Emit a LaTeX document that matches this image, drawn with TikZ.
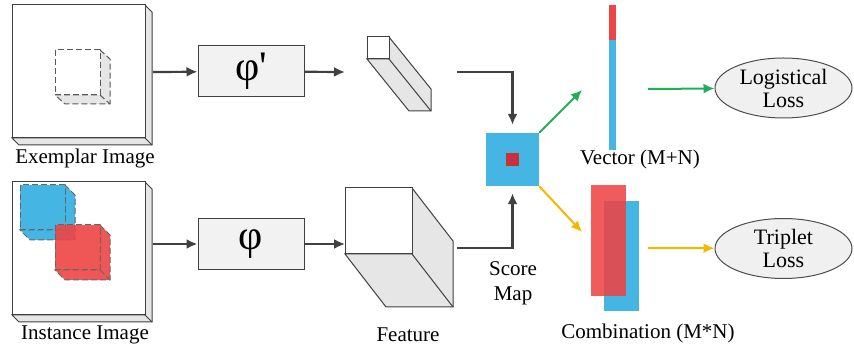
\documentclass[tikz,border=0pt]{standalone}
\usepackage{fontspec}
\setmainfont{Liberation Serif}
\newfontfamily\figfont{Liberation Serif}
\usetikzlibrary{arrows.meta,shapes.geometric}
\definecolor{skyblue}{HTML}{45B5E3}
\definecolor{boxred}{HTML}{EE4444}
\definecolor{darkred}{HTML}{C8303C}
\definecolor{arrgreen}{HTML}{1FAF5A}
\definecolor{arryellow}{HTML}{F5B800}
\definecolor{arrgray}{HTML}{404040}
\definecolor{sidegray}{HTML}{E6E6E6}
% cuboid: front style, side style, x, y, width, height, dx, dy
\newcommand{\cuboid}[8]{%
  \filldraw[#2] (#3+#5,#4) -- ++(#7,#8) -- ++(0,#6) -- ++(-#5,0) -- ++(-#7,-#8) -- ++(#5,0) -- cycle;
  \draw[#2, fill=none] (#3+#5,#4+#6) -- ++(#7,#8);
  \filldraw[#1] (#3,#4) rectangle ++(#5,#6);
}

\begin{document}
\begin{tikzpicture}[x=1pt, y=-1pt,
    every node/.style={font=\figfont\fontsize{21}{25}\selectfont},
    lbl/.style={inner sep=0pt},
    front/.style={draw=black!75, fill=white, line width=1pt},
    side/.style={draw=black!75, fill=sidegray, line width=1pt},
    hidden/.style={dash pattern=on 6pt off 3pt},
    phibox/.style={draw=black!75, fill=black!5, line width=1pt, minimum width=106pt, minimum height=51pt, inner sep=0pt, font=\figfont\fontsize{42}{42}\selectfont},
    loss/.style={ellipse, draw=black!70, fill=black!6, line width=1pt, minimum width=137pt, minimum height=60pt, inner sep=0pt, align=center, font=\figfont\fontsize{22}{23}\selectfont},
    arr/.style={draw=arrgray, line width=2.2pt, -{Latex[length=11pt,width=10pt]}},
    garr/.style={arr, draw=arrgreen, line width=2pt},
    yarr/.style={arr, draw=arryellow, line width=2pt}]
    \useasboundingbox (0,0) rectangle (854,352);

    % First row
    \cuboid{front}{side}{12}{5}{133}{133}{7}{7}
    \cuboid{front, hidden, draw=black!65}{side, hidden, draw=black!65}{55}{50}{45}{45}{10}{9}
    \node[lbl] (exemplar-lbl) at (85,158) {Exemplar Image};
    \coordinate (exemplar) at (153,72);
    \node[phibox] (phi-1) at (251,71.5) {φ\textquotesingle};
    \cuboid{front}{side}{367}{37}{22}{22}{42}{52}
    \coordinate (bar-in) at (345,72);
    \coordinate (bar-out) at (457,72);

    % Second row
    \cuboid{front}{side}{12}{182}{133}{133}{7}{7}
    \cuboid{draw=black!60, hidden, fill=skyblue, line width=1pt}{draw=black!60, hidden, fill=skyblue, line width=1pt}{20}{185}{45}{45}{10}{10}
    \cuboid{draw=black!60, hidden, fill=boxred, fill opacity=0.9, line width=1pt}{draw=black!60, hidden, fill=boxred, fill opacity=0.9, line width=1pt}{55}{225}{45}{45}{10}{10}
    \node[lbl] (instance-lbl) at (85,335) {Instance Image};
    \coordinate (instance) at (153,244);
    \node[phibox] (phi-2) at (251,244) {φ};
    \cuboid{front}{side}{345}{188}{67}{66}{41}{53}
    \coordinate (feature-in) at (345,244);
    \coordinate (feature-out) at (457,248);
    \node[lbl] (feature-lbl) at (408,335) {Feature};

    % Score map
    \node[fill=skyblue, minimum width=53pt, minimum height=53pt, inner sep=0pt] (score) at (512.5,159.5) {};
    \fill[darkred] (506,153) rectangle (519,166);
    \node[lbl, align=center] (score-lbl) at (513,283) {Score\\Map};

    % Vector and combination
    \fill[boxred] (609,5) rectangle (616,40);
    \fill[skyblue] (609,40) rectangle (616,150);
    \node[lbl] (vector-lbl) at (640,159) {Vector (M+N)};
    \fill[skyblue] (604,201) rectangle (639,311);
    \fill[boxred, fill opacity=0.88] (591,185) rectangle (626,296);
    \node[lbl] (comb-lbl) at (648,333) {Combination (M*N)};
    \coordinate (vec-in) at (582,90);
    \coordinate (vec-out) at (648,89);
    \coordinate (comb-in) at (582,232);
    \coordinate (comb-out) at (648,248);

    % Losses
    \node[loss] (logloss) at (783.5,88) {Logistical\\Loss};
    \node[loss] (triloss) at (783.5,248.5) {Triplet\\Loss};

    % Connectors
    \draw[arr] (exemplar) -- (phi-1);
    \draw[arr] (phi-1) -- (bar-in);
    \draw[arr] (instance) -- (phi-2);
    \draw[arr] (phi-2) -- (feature-in);
    \draw[arr, shorten >=8pt] (bar-out) -| (score.north);
    \draw[arr, shorten >=7pt] (feature-out) -| (score.south);
    \draw[garr] (score.north east) -- (vec-in);
    \draw[yarr] (score.south east) -- (comb-in);
    \draw[garr] (vec-out) -- (logloss);
    \draw[yarr] (comb-out) -- (triloss);
\end{tikzpicture}
\end{document}
